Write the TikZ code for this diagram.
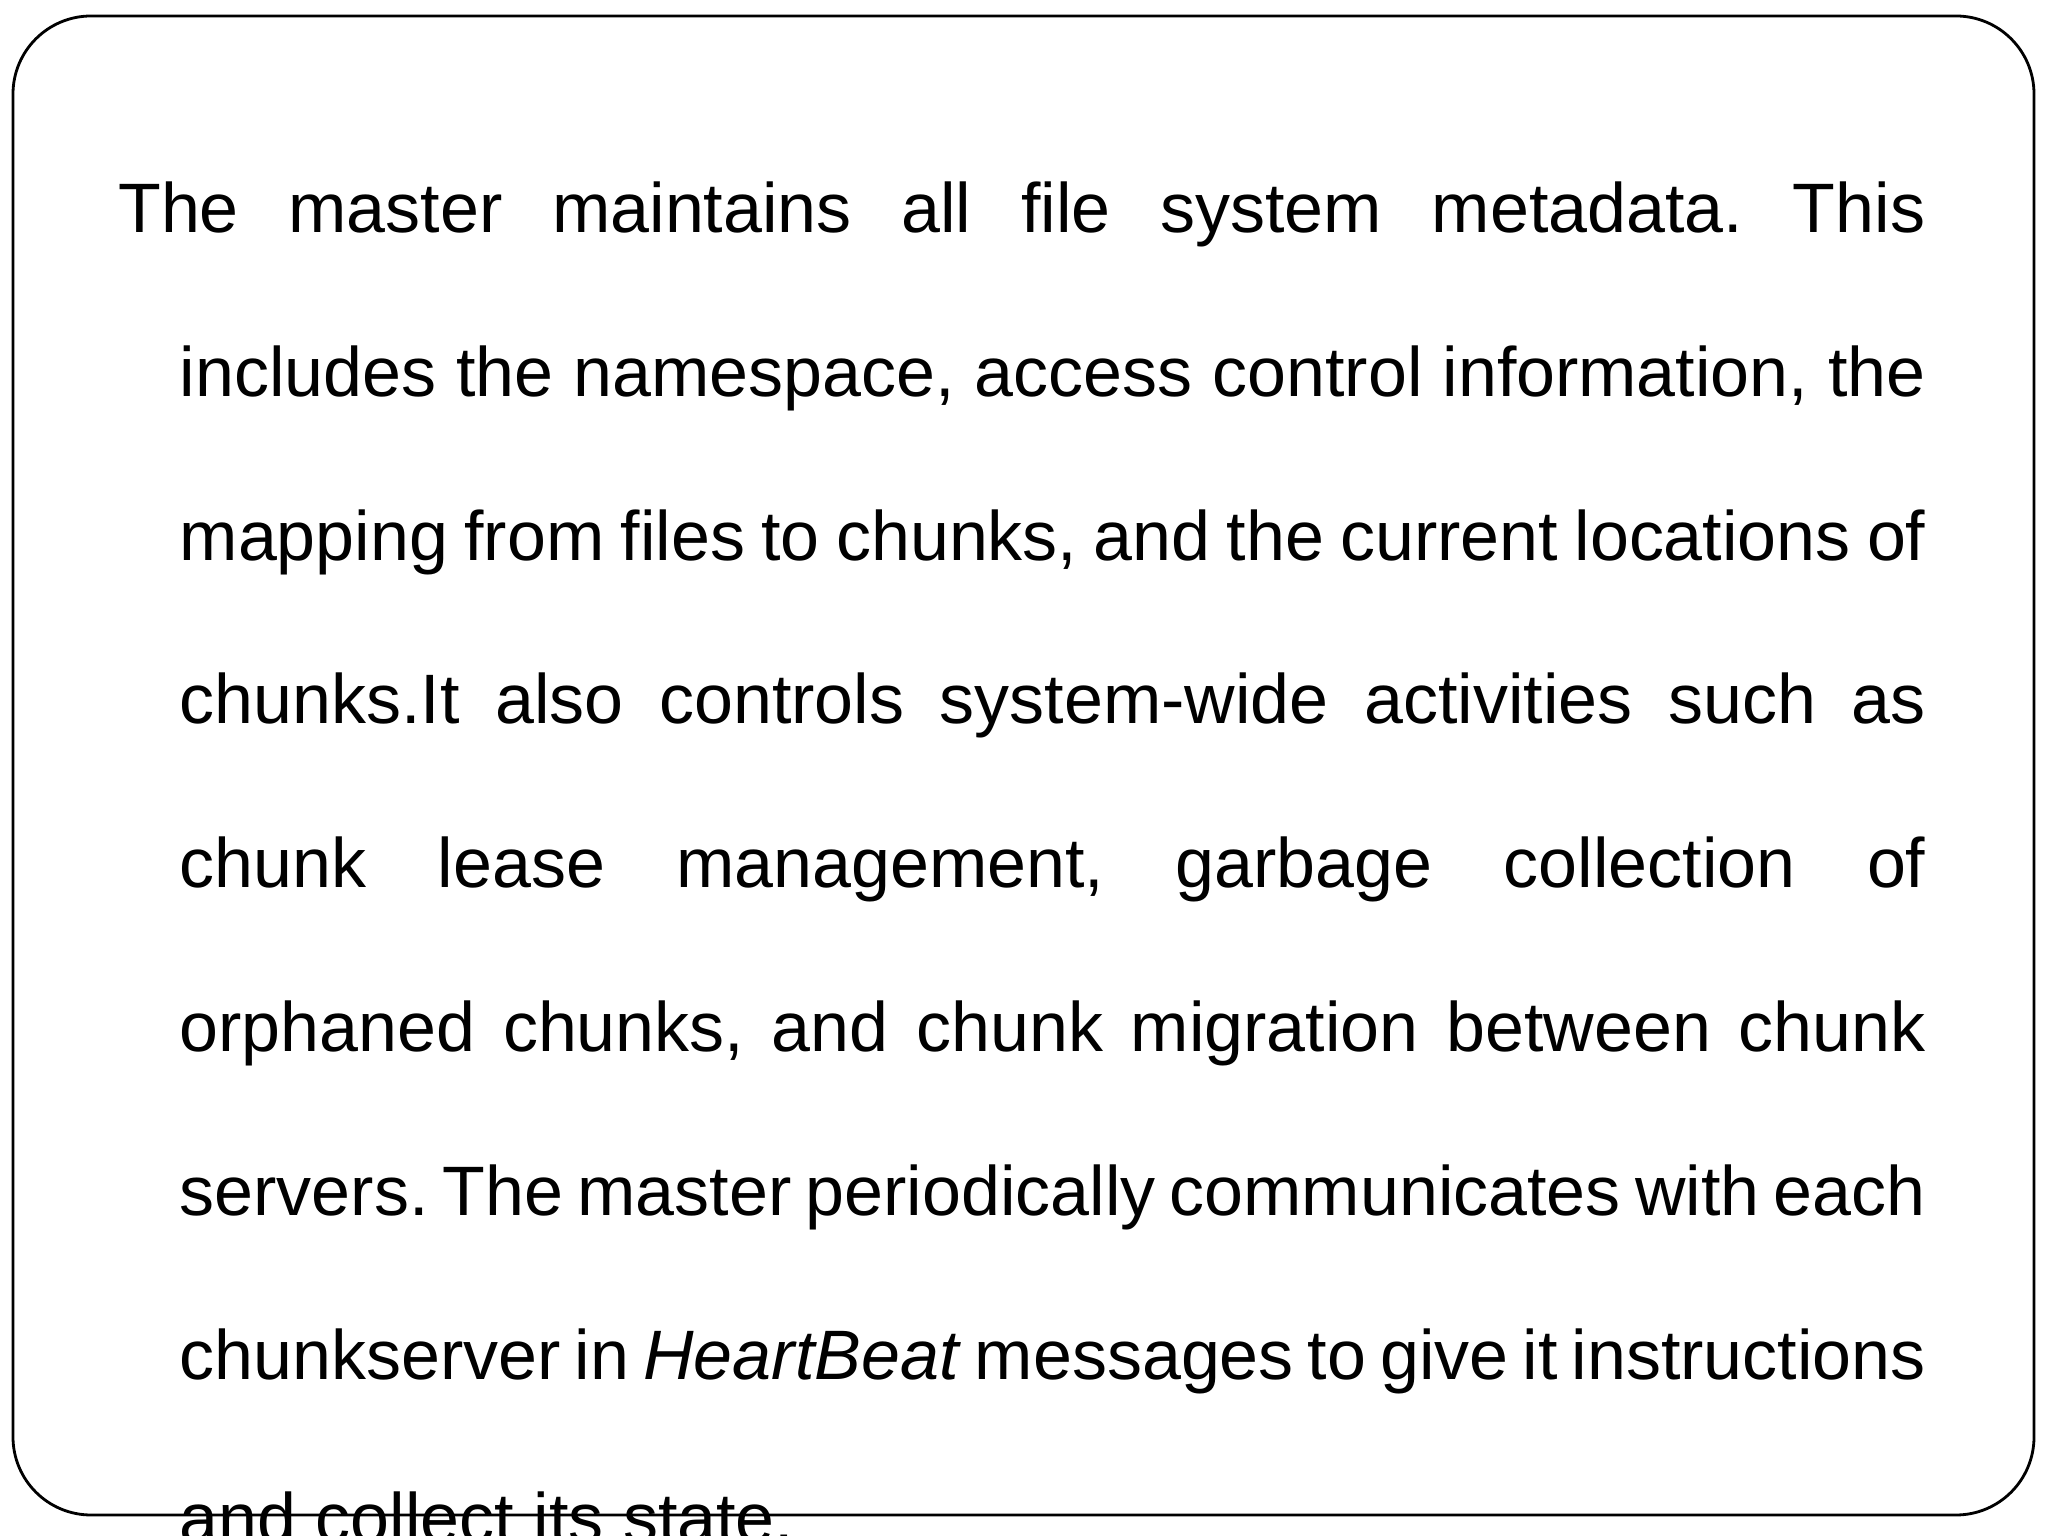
\documentclass[tikz,border=0pt]{standalone}
\usepackage{fontspec}
\setmainfont{Liberation Sans}
\frenchspacing
\begin{document}
\begin{tikzpicture}[x=0.01cm,y=0.01cm,
  ln/.style={anchor=base west,inner sep=0pt,font=\fontsize{19.9}{24}\selectfont}]
\useasboundingbox (0,0) rectangle (2048,1536);
\draw[line width=0.8pt,rounded corners=0.78cm] (13,21) rectangle (2034,1520);
\def\W{17.45cm}
\node[ln] (l1) at (117.6,1303.5) {\makebox[18.06cm][s]{The master maintains all file system metadata. This}};
\node[ln] (l2) at (179,1139.7) {\makebox[\W][s]{includes the namespace, access control information, the}};
\node[ln] (l3) at (179,975.9) {\makebox[\W][s]{mapping from files to chunks, and the current locations of}};
\node[ln] (l4) at (179,812.1) {\makebox[\W][s]{chunks.It also controls system-wide activities such as}};
\node[ln] (l5) at (179,648.3) {\makebox[\W][s]{chunk lease management, garbage collection of}};
\node[ln] (l6) at (179,484.5) {\makebox[\W][s]{orphaned chunks, and chunk migration between chunk}};
\node[ln] (l7) at (179,320.7) {\makebox[\W][s]{servers. The master periodically communicates with each}};
\node[ln] (l8) at (179,156.9) {\makebox[\W][s]{chunkserver in \textit{HeartBeat} messages to give it instructions}};
\node[ln] (l9) at (179,-6.9) {and collect its state.};
\end{tikzpicture}
\end{document}
